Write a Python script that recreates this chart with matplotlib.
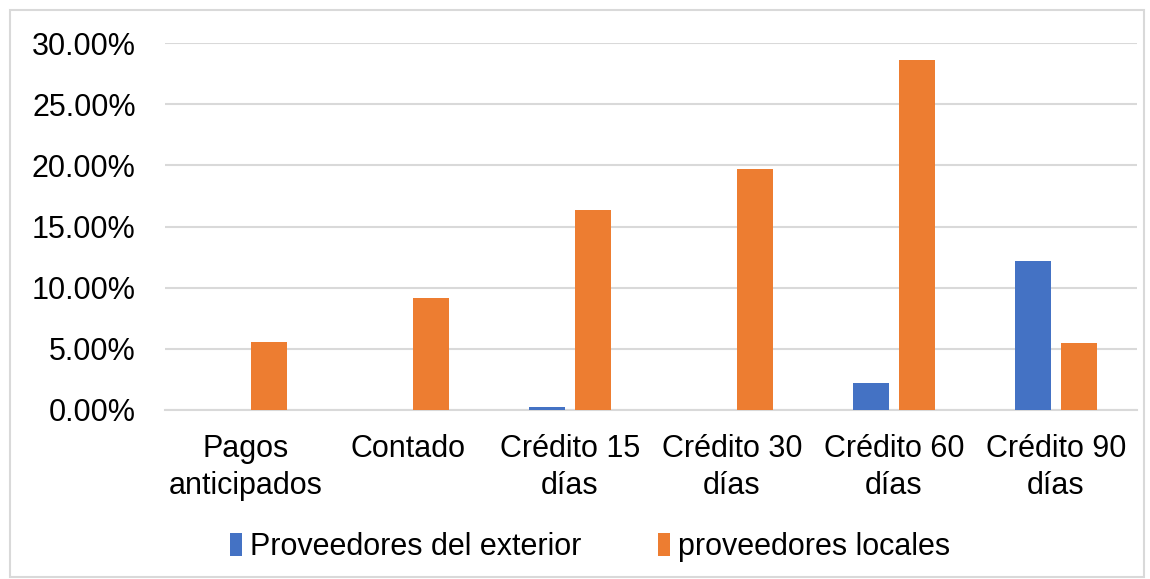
import matplotlib.pyplot as plt
import numpy as np
from matplotlib.patches import Rectangle
from matplotlib.ticker import PercentFormatter

plt.rcParams['font.family'] = ['Liberation Sans', 'DejaVu Sans']

categories = ["Pagos\nanticipados", "Contado", "Crédito 15\ndías", "Crédito 30\ndías",
              "Crédito 60\ndías", "Crédito 90\ndías"]
exterior = [0.0, 0.0, 0.0025, 0.0, 0.0218, 0.1214]
locales = [0.0559, 0.0914, 0.1637, 0.1972, 0.2864, 0.0551]

x = np.arange(len(categories))
width = 0.222
offset = 0.142

fig = plt.figure(figsize=(11.5, 5.79), dpi=100)
ax = fig.add_axes([0.1435, 0.2919, 0.8452, 0.6338])

ax.bar(x - offset, exterior, width, color='#4472c4', label='Proveedores del exterior', zorder=3)
ax.bar(x + offset, locales, width, color='#ed7d31', label='proveedores locales', zorder=3)

ax.set_xlim(-0.5, len(categories) - 0.5)
ax.set_ylim(0, 0.30)
ax.set_yticks(np.arange(0, 0.301, 0.05))
ax.yaxis.set_major_formatter(PercentFormatter(1.0, decimals=2))
ax.set_xticks(x, categories)
ax.tick_params(axis='both', length=0, labelsize=22, colors='#000000')
ax.tick_params(axis='y', pad=21)
ax.tick_params(axis='x', pad=17)
for lab in ax.get_xticklabels():
    lab.set_linespacing(1.3)

ax.grid(axis='y', color='#d9d9d9', linewidth=1.5, zorder=0)
for side in ['top', 'right', 'left']:
    ax.spines[side].set_visible(False)
ax.spines['bottom'].set_color('#d9d9d9')
ax.spines['bottom'].set_linewidth(1.5)

fig.legend(loc='center', bbox_to_anchor=(0.513, 0.055), ncol=2, frameon=False,
           fontsize=22, handlelength=0.4, handleheight=0.8, handletextpad=0.25,
           columnspacing=2.5)

# light border round the whole chart
fig.patches.append(Rectangle((0.009, 0.004), 0.986, 0.979, transform=fig.transFigure,
                             fill=False, edgecolor='#d9d9d9', linewidth=1.5))

fig.savefig('out.png', dpi=100)
